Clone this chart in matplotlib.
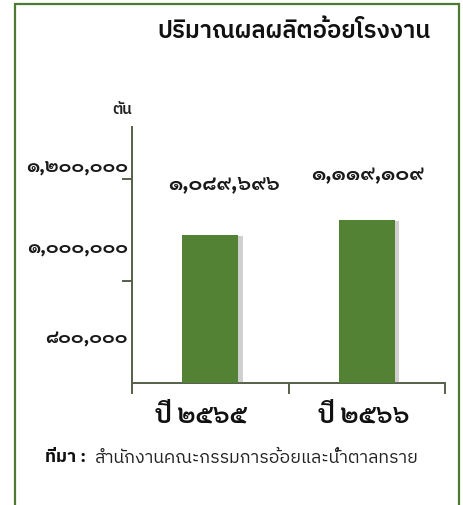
import matplotlib
matplotlib.use("Agg")
import matplotlib.pyplot as plt
import matplotlib.patheffects as pe
from matplotlib.patches import Rectangle
from matplotlib.transforms import blended_transform_factory

# ---- data ----
categories = ["ปี ๒๕๖๕", "ปี ๒๕๖๖"]
values = [1089696, 1119109]
value_labels = ["๑,๐๘๙,๖๙๖", "๑,๑๑๙,๑๐๙"]
tick_values = [800000, 1000000, 1200000]
tick_labels = ["๘๐๐,๐๐๐", "๑,๐๐๐,๐๐๐", "๑,๒๐๐,๐๐๐"]
title = "ปริมาณผลผลิตอ้อยโรงงาน"
unit = "ตัน"
source_head = "ที่มา :"
source_text = "สำนักงานคณะกรรมการอ้อยและน้ำตาลทราย"

LOOPLESS = ["IBM Plex Sans Thai", "DejaVu Sans"]
LOOPED = ["Sarabun", "DejaVu Sans"]
BAR = "#548235"
AXC = "#55604a"

W, H = 464, 506
fig = plt.figure(figsize=(W / 100, H / 100), dpi=100)
fig.patch.set_facecolor("white")

def fx(px):
    return px / W

def fy(py):
    return 1 - py / H

# frame around whole graphic
fig.patches.append(Rectangle((fx(15), fy(530)), fx(459) - fx(15), fy(5) - fy(530),
                             transform=fig.transFigure, fill=False,
                             edgecolor="#4e7a30", linewidth=1.6, clip_on=False))

ax = fig.add_axes([fx(132), fy(384), fx(445) - fx(132), fy(128) - fy(384)])
x = list(range(len(categories)))
bars = ax.bar(x, values, width=0.36, color=BAR, zorder=3)
for b in bars:
    b.set_path_effects([pe.SimplePatchShadow(offset=(3, -1), shadow_rgbFace="#777777", alpha=0.35),
                        pe.Normal()])

ax.set_xlim(-0.5, 1.5)
ax.set_ylim(800000, 1301000)

for s in ["top", "right"]:
    ax.spines[s].set_visible(False)
for s in ["left", "bottom"]:
    ax.spines[s].set_color(AXC)
    ax.spines[s].set_linewidth(1.4)

# tick marks
ax.set_yticks(tick_values[1:])
ax.set_yticklabels([])
ax.tick_params(axis="y", direction="out", length=7, width=1.4, color=AXC)
ax.set_xticks([-0.5, 0.5, 1.5])
ax.set_xticklabels([])
ax.tick_params(axis="x", direction="out", length=8, width=1.4, color=AXC)

# y tick labels (offset upward like in the reference)
ylab_offsets = [46, 33, 13]
tr_y = blended_transform_factory(ax.transAxes, ax.transData)
for v, lab, off in zip(tick_values, tick_labels, ylab_offsets):
    ax.annotate(lab, xy=(0, v), xycoords=tr_y, xytext=(-4, off), textcoords="offset pixels",
                ha="right", va="center", fontsize=13.8, fontweight="bold", family=LOOPED,
                color="#1a1a1a", annotation_clip=False)

# value labels
val_offsets = [(14, 52), (1, 46)]
for xi, v, lab, off in zip(x, values, value_labels, val_offsets):
    ax.annotate(lab, xy=(xi, v), xytext=off, textcoords="offset pixels",
                ha="center", va="center", fontsize=15, fontweight="bold", family=LOOPED,
                color="#1a1a1a", annotation_clip=False)

# category labels
tr_x = blended_transform_factory(ax.transData, ax.transAxes)
cat_offsets = [-9, -3]
for xi, lab, off in zip(x, categories, cat_offsets):
    ax.annotate(lab, xy=(xi, 0), xycoords=tr_x, xytext=(off, -32), textcoords="offset pixels",
                ha="center", va="center", fontsize=18, fontweight="bold", family=LOOPED,
                color="#111111", annotation_clip=False)

# title, unit, source
fig.text(fx(294), fy(31), title, ha="center", va="center", fontsize=17.3,
         fontweight="semibold", family=LOOPLESS, color="#111111")
fig.text(fx(122), fy(110), unit, ha="center", va="center", fontsize=11,
         fontweight="semibold", family=LOOPLESS, color="#222222")
fig.text(fx(45), fy(458), source_head, ha="left", va="center", fontsize=12.6,
         fontweight="bold", family=LOOPLESS, color="#111111")
fig.text(fx(95), fy(458), source_text, ha="left", va="center", fontsize=12.8,
         fontweight="normal", family=LOOPLESS, color="#222222")

fig.savefig("out.png", dpi=100, facecolor="white")
